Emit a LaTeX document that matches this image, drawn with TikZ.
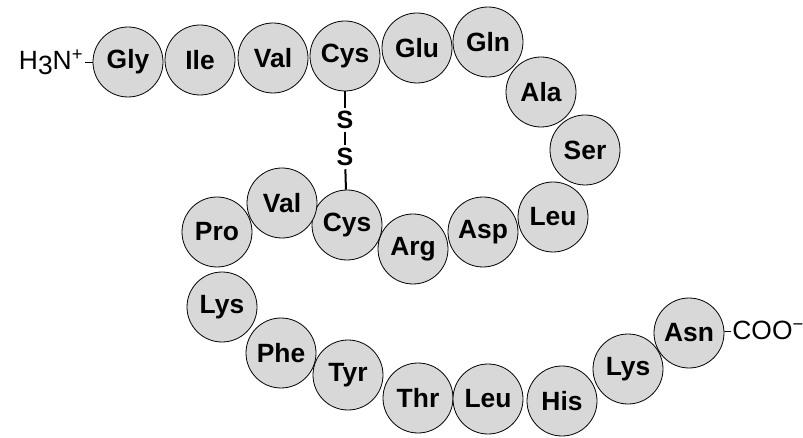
\documentclass[tikz,border=0pt]{standalone}
\usepackage{fontspec}
\setmainfont{Liberation Sans}
\usetikzlibrary{positioning}
\definecolor{aagray}{RGB}{216,216,216}
\begin{document}
\begin{tikzpicture}[x=0.5pt,y=-0.5pt,
aa/.style={draw, circle, fill=aagray, minimum size=35pt, inner sep=0pt, font=\fontsize{13.2}{15}\selectfont\bfseries},
term/.style={inner sep=0.5pt, font=\fontsize{13.2}{15}\selectfont},
sulf/.style={inner sep=1.5pt, font=\fontsize{12.5}{14}\selectfont\bfseries},
bond/.style={line width=1pt}
]
\useasboundingbox (0,0) rectangle (803,438);
% first strand
\node[aa] (gly) at (128,62) {Gly};
\node[aa] (ile) at (200,60) {Ile};
\node[aa] (val1) at (273,58) {Val};
\node[aa] (cys1) at (345,56) {Cys};
\node[aa] (glu) at (417,48) {Glu};
\node[aa] (gln) at (488,42) {Gln};
\node[aa] (ala) at (541,92) {Ala};
\node[aa] (ser) at (585,150) {Ser};
\node[aa] (leu1) at (553,217) {Leu};
\node[aa] (asp) at (483,232) {Asp};
\node[aa] (arg) at (413,249) {Arg};
\node[aa] (cys2) at (347,225) {Cys};
\node[aa] (val2) at (282,203) {Val};
\node[aa] (pro) at (217,232) {Pro};
% second strand
\node[aa] (lys1) at (222,307) {Lys};
\node[aa] (phe) at (281,353) {Phe};
\node[aa] (tyr) at (348,375) {Tyr};
\node[aa] (thr) at (418,398) {Thr};
\node[aa] (leu2) at (488,399) {Leu};
\node[aa] (his) at (562,401) {His};
\node[aa] (lys2) at (628,369) {Lys};
\node[aa] (asn) at (689,333) {Asn};
% ends
\node[term, anchor=east] (nterm) at (85,62) {H\raisebox{-2.5pt}{3}N\textsuperscript{+}};
\node[term, anchor=west] (cterm) at (731,330) {COO\textsuperscript{−}};
\draw (nterm) -- (gly);
\draw (asn) -- (cterm);
% disulfide bridge
\node[sulf] (s1) at (345,120) {S};
\node[sulf] (s2) at (345,157) {S};
\draw[bond] (cys1) -- (s1);
\draw[bond] (s1) -- (s2);
\draw[bond] (s2) -- (cys2);
\end{tikzpicture}
\end{document}
